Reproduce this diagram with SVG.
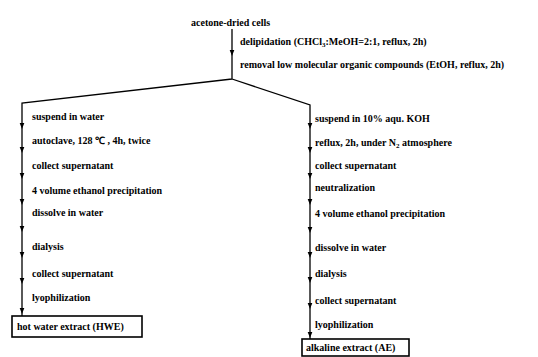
<svg xmlns="http://www.w3.org/2000/svg" xmlns:xlink="http://www.w3.org/1999/xlink" width="538" height="357" viewBox="0 0 538 357">
<style>
text{font-family:"Liberation Serif","Times New Roman",serif;font-size:10px;font-weight:bold;fill:#000}
.ln{stroke:#000;stroke-width:1.3;fill:none}
.box{stroke:#000;stroke-width:1.6;fill:#fff}
.sub{font-size:7px}
</style>
<defs>
<path id="ah" d="M-2.3,-6 L2.3,-6 L0,0 Z" fill="#000"/>
</defs>
<rect width="538" height="357" fill="#fff"/>
<g id="connectors">
<path class="ln" d="M232,29 V79 M232,79 L22,103 V316 M232,79 L310,105 V339"/>
<use xlink:href="#ah" x="232" y="56"/>
<use xlink:href="#ah" x="22" y="129"/>
<use xlink:href="#ah" x="22" y="153"/>
<use xlink:href="#ah" x="22" y="179"/>
<use xlink:href="#ah" x="22" y="205"/>
<use xlink:href="#ah" x="22" y="232"/>
<use xlink:href="#ah" x="22" y="258"/>
<use xlink:href="#ah" x="22" y="284"/>
<use xlink:href="#ah" x="22" y="314"/>
<use xlink:href="#ah" x="310" y="129"/>
<use xlink:href="#ah" x="310" y="153"/>
<use xlink:href="#ah" x="310" y="179"/>
<use xlink:href="#ah" x="310" y="205"/>
<use xlink:href="#ah" x="310" y="233"/>
<use xlink:href="#ah" x="310" y="258"/>
<use xlink:href="#ah" x="310" y="283"/>
<use xlink:href="#ah" x="310" y="309"/>
<use xlink:href="#ah" x="310" y="338"/>
</g>
<g id="start"><text x="191" y="26">acetone-dried cells</text></g>
<g id="delipidation"><text x="240" y="45">delipidation (CHCl<tspan class="sub" dy="2">3</tspan><tspan dy="-2">:MeOH=2:1, reflux, 2h)</tspan></text></g>
<g id="removal"><text x="240" y="68">removal low molecular organic compounds (EtOH, reflux, 2h)</text></g>
<g id="left-steps">
<text x="32" y="120">suspend in water</text>
<text x="32" y="144">autoclave, 128 ℃ , 4h, twice</text>
<text x="32" y="169">collect supernatant</text>
<text x="32" y="194">4 volume ethanol precipitation</text>
<text x="32" y="216">dissolve in water</text>
<text x="32" y="250">dialysis</text>
<text x="32" y="277">collect supernatant</text>
<text x="32" y="301">lyophilization</text>
</g>
<g id="hwe"><rect class="box" x="12" y="316" width="130" height="21"/><text x="17" y="330">hot water extract (HWE)</text></g>
<g id="right-steps">
<text x="315" y="122">suspend in 10% aqu. KOH</text>
<text x="315" y="146">reflux, 2h, under N<tspan class="sub" dy="2">2</tspan><tspan dy="-2"> atmosphere</tspan></text>
<text x="315" y="169">collect supernatant</text>
<text x="315" y="191">neutralization</text>
<text x="315" y="217">4 volume ethanol precipitation</text>
<text x="315" y="251">dissolve in water</text>
<text x="315" y="277">dialysis</text>
<text x="315" y="304">collect supernatant</text>
<text x="315" y="328">lyophilization</text>
</g>
<g id="ae"><rect class="box" x="302" y="339" width="107" height="17"/><text x="306" y="351">alkaline extract (AE)</text></g>
</svg>
